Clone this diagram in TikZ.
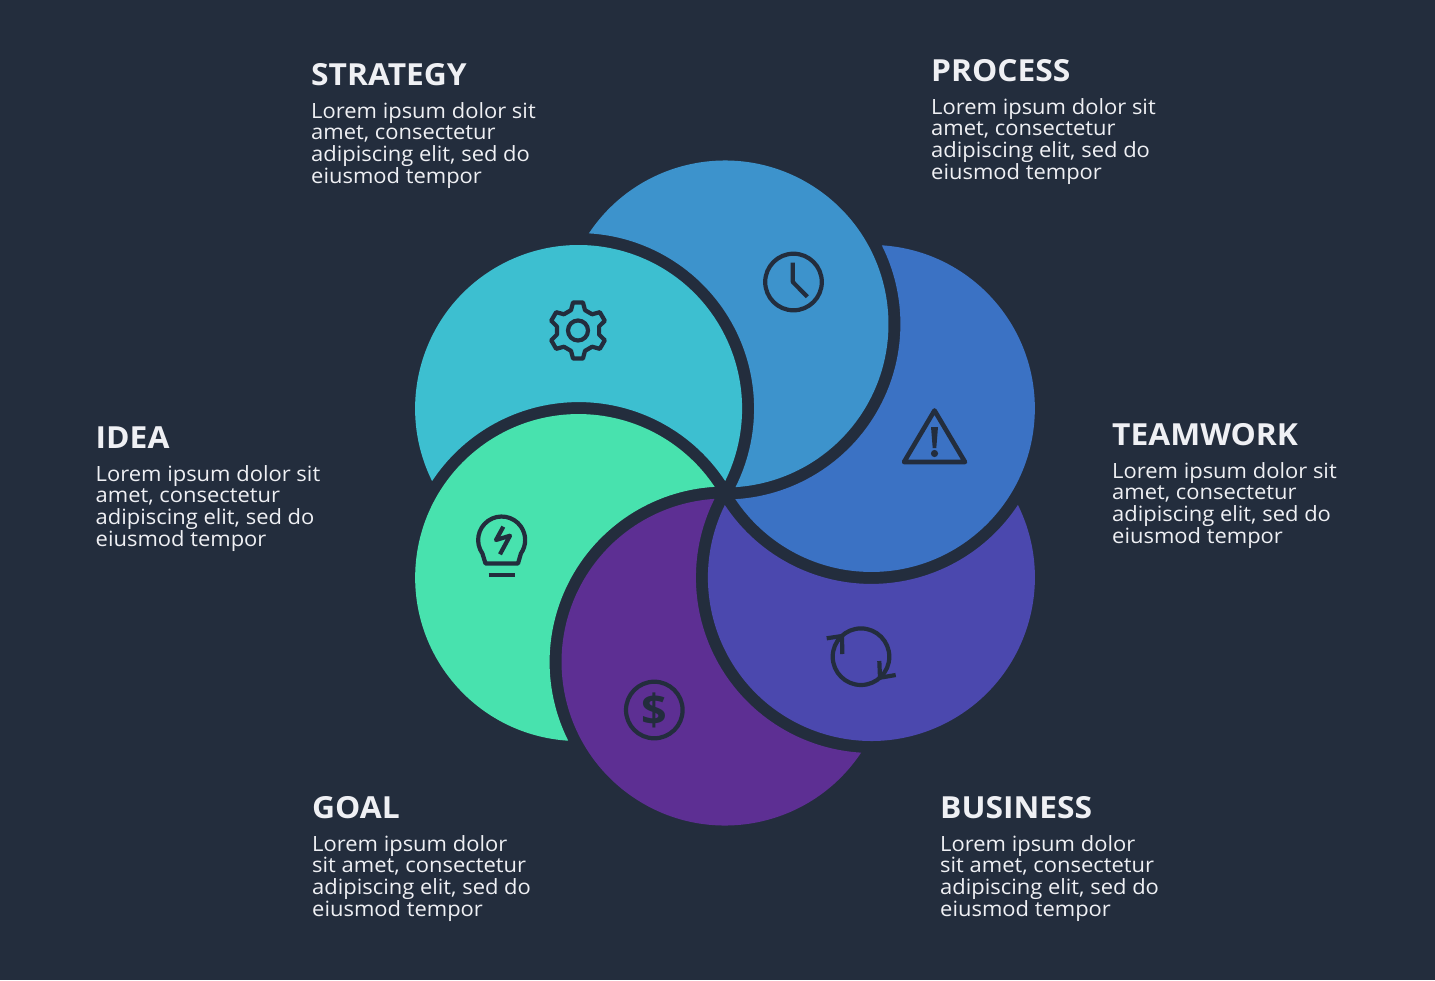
\documentclass[tikz,border=0pt]{standalone}
\usepackage{fontspec}
\setmainfont{Open Sans}[FakeStretch=1.045]
\definecolor{bgc}{HTML}{232D3D}
\definecolor{cteal}{HTML}{3DBFD0}
\definecolor{cproc}{HTML}{3D93CC}
\definecolor{cteam}{HTML}{3B72C4}
\definecolor{cbiz}{HTML}{4B48AE}
\definecolor{cgoal}{HTML}{5D2F93}
\definecolor{cidea}{HTML}{48E2AE}
\definecolor{txtc}{HTML}{EFF0F4}
\tikzset{
  headtext/.style={anchor=base west,inner sep=0pt,text=txtc,font=\fontsize{30.4}{34}\selectfont\bfseries},
  bodytext/.style={anchor=north west,inner sep=0pt,text=txtc,align=left,font=\fontsize{21}{21.8}\selectfont},
  iconline/.style={draw=bgc,line width=4.2pt,line join=round,fill=none},
}
\newcommand{\crescent}[2]{%
  \fill[#2,rotate around={#1:(725,493)}]
    (1017.96,505.04) arc[start angle=26.3,end angle=-206.3,radius=163.5pt]
    arc[start angle=213.4,end angle=326.6,radius=175.5pt] -- cycle;}
\newcommand{\lorem}{Lorem ipsum dolor sit\\amet, consectetur\\adipiscing elit, sed do\\eiusmod tempor}
\newcommand{\loremb}{Lorem ipsum dolor\\sit amet, consectetur\\adipiscing elit, sed do\\eiusmod tempor}
\begin{document}
\begin{tikzpicture}[x=1pt,y=-1pt]
\fill[bgc] (0,0) rectangle (1435,980);
\useasboundingbox (0,0) rectangle (1435,980);
% petals: base petal is BUSINESS, each next rotated by 60 degrees
\crescent{0}{cbiz}
\crescent{60}{cteam}
\crescent{120}{cproc}
\crescent{180}{cteal}
\crescent{240}{cidea}
\crescent{300}{cgoal}
% gear
\begin{scope}[shift={(578,330.5)}]
  \draw[iconline] (80:28.5) \foreach \a in {90,150,210,270,330,30}{
     -- (\a-10:28.5) -- (\a+10:28.5) -- (\a+19:21.5) -- (\a+41:21.5)} -- cycle;
  \draw[iconline] (0,0) circle (10pt);
\end{scope}
% clock
\draw[iconline] (793.5,282) circle (28.3pt);
\draw[iconline] (792.8,262.5) -- (792.8,282) -- (807.3,296.7);
% warning
\draw[iconline,line width=4.6pt] (934.5,410.5) -- (965,462) -- (904,462) -- cycle;
\fill[bgc] (931,427) -- (938,427) -- (936.3,448) -- (932.7,448) -- cycle;
\fill[bgc] (934.5,453.5) circle (3.6pt);
% refresh
\draw[iconline] (861,656.7) circle (28.3pt);
\draw[iconline] (826.7,638.3) -- (842,636) -- (842.3,654);
\draw[iconline] (879.3,661) -- (880,677.7) -- (895.7,675);
% dollar
\draw[iconline] (654.3,710) circle (28.3pt);
\node[inner sep=0pt,text=bgc,font=\fontsize{43}{43}\selectfont\bfseries] (dollar) at (654,710) {\$};
% bulb
\draw[iconline] (485.5,563.5) -- (482.4,553.5) arc[start angle=215,end angle=-35,radius=23.5pt] -- (518,563.5) -- cycle;
\draw[iconline] (503.3,526.7) -- (496,540) -- (510,535.7) -- (500,554.3);
\draw[iconline] (488.7,575) -- (515,575);
% texts
\node[headtext] (t1) at (311,85) {STRATEGY};
\node[bodytext] (b1) at (311,102) {\lorem};
\node[headtext] (t2) at (931,81) {PROCESS};
\node[bodytext] (b2) at (931,98) {\lorem};
\node[headtext] (t3) at (1112,445) {TEAMWORK};
\node[bodytext] (b3) at (1112,462) {\lorem};
\node[headtext] (t4) at (95.5,448) {IDEA};
\node[bodytext] (b4) at (95.5,465) {\lorem};
\node[headtext] (t5) at (312,818) {GOAL};
\node[bodytext] (b5) at (312,835) {\loremb};
\node[headtext] (t6) at (940,818) {BUSINESS};
\node[bodytext] (b6) at (940,835) {\loremb};
\end{tikzpicture}
\end{document}
